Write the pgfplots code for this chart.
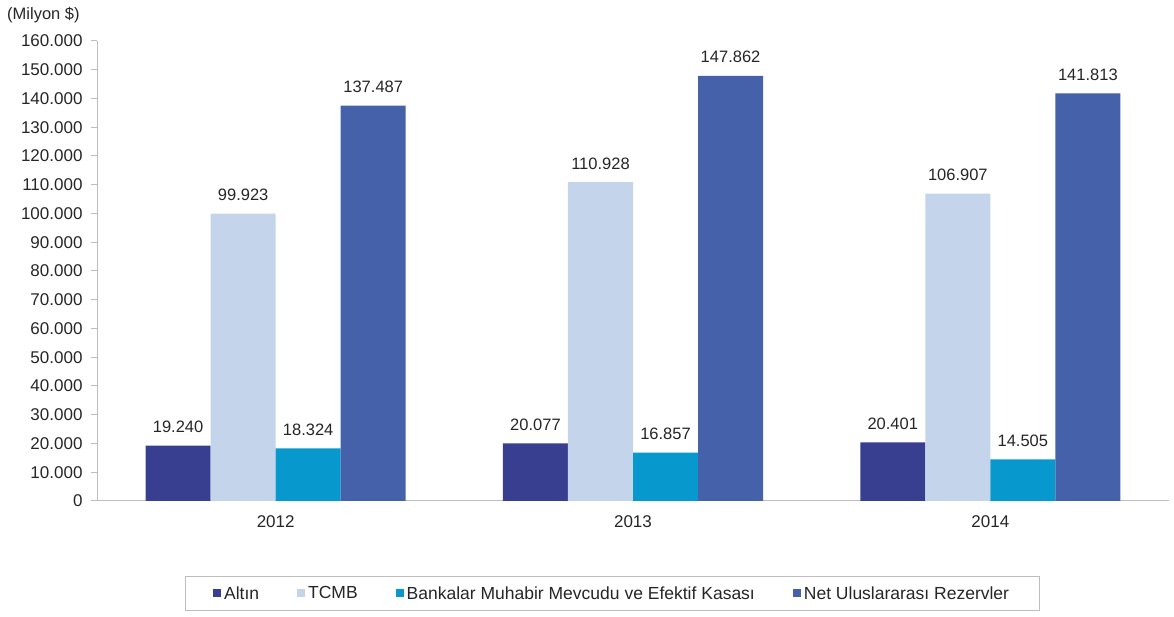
\documentclass[border=0pt]{standalone}
\usepackage{fontspec}
\setmainfont{Liberation Sans}
\usepackage{pgfplots}
\pgfplotsset{compat=1.18}
\definecolor{altin}{HTML}{383F91}
\definecolor{tcmb}{HTML}{C4D4EA}
\definecolor{banka}{HTML}{0798CE}
\definecolor{net}{HTML}{4461AA}
\definecolor{axgray}{HTML}{BDBDBD}
\begin{document}
\begin{tikzpicture}[x=1pt,y=1pt]
\path[use as bounding box] (0,0) rectangle (1174,617);
\node[anchor=west,inner sep=0pt,font=\fontsize{16.5}{19}\selectfont,text=black!85] at (7,602) {(Milyon \$)};
\begin{axis}[
  at={(97pt,116pt)}, anchor=south west,
  scale only axis, width=1072pt, height=460pt,
  xmin=-0.5, xmax=2.5, ymin=0, ymax=160000,
  ybar=0pt, bar width=0.182,
  axis lines*=left,
  axis line style={axgray, line width=1pt},
  xtick={0,1,2}, xticklabels={2012,2013,2014},
  x tick style={draw=none},
  extra x ticks={-0.5,0.5,1.5,2.5},
  extra x tick labels={},
  extra x tick style={tick style={axgray, line width=1pt, draw=axgray}, major tick length=6pt, tick align=outside},
  ytick distance=10000,
  y tick style={axgray, line width=1pt},
  tick align=outside, major tick length=6pt,
  /pgf/number format/.cd, 1000 sep={.}, fixed, precision=0, assume math mode=true, /pgfplots/.cd,
  scaled y ticks=false,
  tick label style={font=\fontsize{17}{20}\selectfont, text=black!85},
  xticklabel style={yshift=-5pt},
  yticklabel style={xshift=-5pt},
  nodes near coords,
  every node near coord/.append style={font=\fontsize{16.5}{19}\selectfont, text=black!85, anchor=base, yshift=13pt, /pgf/number format/.cd, 1000 sep={.}, fixed, precision=0, assume math mode=true},
  every axis plot post/.append style={legend image code/.code={\fill[##1,draw=none] (0pt,-4pt) rectangle (8pt,4pt);}},
  legend columns=4,
  legend style={at={(0.4805,-0.201)}, anchor=center, draw=axgray, line width=1pt, font=\fontsize{17.5}{20}\selectfont, text=black!85,
    inner xsep=28pt, inner ysep=8pt,
    /tikz/every even column/.append style={column sep=36pt},
    /tikz/every odd column/.append style={column sep=1pt}},
]
\addplot[fill=altin, draw=none] coordinates {(0,19240) (1,20077) (2,20401)};
\addplot[fill=tcmb, draw=none] coordinates {(0,99923) (1,110928) (2,106907)};
\addplot[fill=banka, draw=none] coordinates {(0,18324) (1,16857) (2,14505)};
\addplot[fill=net, draw=none] coordinates {(0,137487) (1,147862) (2,141813)};
\legend{Altın, TCMB, Bankalar Muhabir Mevcudu ve Efektif Kasası, Net Uluslararası Rezervler}
\end{axis}
\end{tikzpicture}
\end{document}
